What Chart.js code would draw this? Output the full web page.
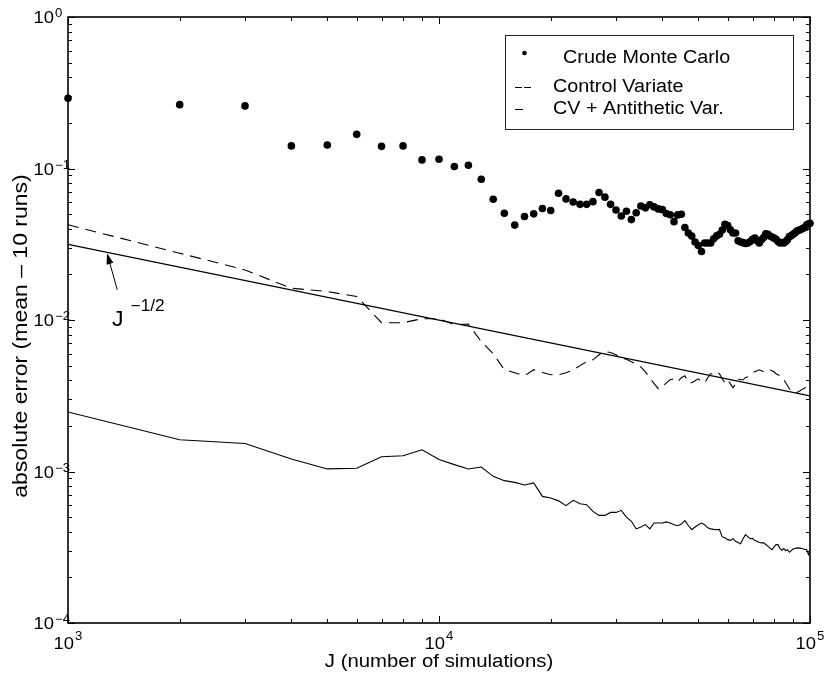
<!DOCTYPE html>
<html>
<head>
<meta charset="utf-8">
<script src="https://cdn.jsdelivr.net/npm/chart.js@4.4.1/dist/chart.umd.min.js"></script>
<style>
  html, body { margin: 0; padding: 0; background: #fff; }
  #wrap { width: 825px; height: 677px; }
</style>
</head>
<body>
<div id="wrap"><canvas id="errChart"></canvas></div>
<script>
// J in thousands of simulations
const jThousands = [
  1, 2, 3, 4, 5, 6, 7, 8, 9, 10,
  11, 12, 13, 14, 15, 16, 17, 18, 19, 20,
  21, 22, 23, 24, 25, 26, 27, 28, 29, 30,
  31, 32, 33, 34, 35, 36, 37, 38, 39, 40,
  41, 42, 43, 44, 45, 46, 47, 48, 49, 50,
  51, 52, 53, 54, 55, 56, 57, 58, 59, 60,
  61, 62, 63, 64, 65, 66, 67, 68, 69, 70,
  71, 72, 73, 74, 75, 76, 77, 78, 79, 80,
  81, 82, 83, 84, 85, 86, 87, 88, 89, 90,
  91, 92, 93, 94, 95, 96, 97, 98, 99, 100
];

const crudeMC = [
  0.291, 0.264, 0.259, 0.141, 0.143, 0.168, 0.140, 0.141, 0.114, 0.115,
  0.103, 0.105, 0.085, 0.0627, 0.0507, 0.0423, 0.0482, 0.0502, 0.0544, 0.0528,
  0.0687, 0.063, 0.0601, 0.058, 0.058, 0.0604, 0.0695, 0.0647, 0.058, 0.0532,
  0.0486, 0.0522, 0.046, 0.051, 0.0565, 0.055, 0.0577, 0.0558, 0.0541, 0.0535,
  0.0505, 0.0495, 0.0446, 0.0494, 0.0499, 0.0408, 0.0375, 0.0358, 0.0327, 0.031,
  0.0283, 0.0322, 0.0322, 0.0322, 0.0344, 0.0359, 0.0368, 0.0392, 0.0429, 0.042,
  0.0394, 0.0375, 0.0375, 0.0333, 0.0327, 0.0324, 0.032, 0.0322, 0.033, 0.0341,
  0.0347, 0.0333, 0.0322, 0.0338, 0.035, 0.0371, 0.0368, 0.0358, 0.0353, 0.0347,
  0.0341, 0.033, 0.0322, 0.0325, 0.0322, 0.033, 0.034, 0.0356, 0.036, 0.0368,
  0.0375, 0.0385, 0.039, 0.0394, 0.0399, 0.0405, 0.0408, 0.0425, 0.043, 0.0435
];

const controlVariate = [
  0.0425, 0.0276, 0.0214, 0.0162, 0.0154, 0.0143, 0.0096, 0.0096, 0.0102, 0.0102,
  0.0093, 0.0094, 0.0072, 0.0060, 0.0047, 0.00449, 0.00428, 0.0047, 0.0045, 0.00435,
  0.00435, 0.00448, 0.00469, 0.0050, 0.0053, 0.00546, 0.0059, 0.0062, 0.0061, 0.0059,
  0.00563, 0.0055, 0.0053, 0.00514, 0.0049, 0.00455, 0.00416, 0.0038, 0.00352, 0.00363,
  0.00385, 0.00403, 0.00409, 0.00391, 0.00416, 0.00428, 0.00385, 0.00385, 0.00397, 0.00409,
  0.00391, 0.00385, 0.00416, 0.00442, 0.00442, 0.00455, 0.00442, 0.00409, 0.00385, 0.00403,
  0.00379, 0.00357, 0.00379, 0.00409, 0.00403, 0.00403, 0.00416, 0.00422, 0.00435, 0.00448,
  0.00455, 0.00462, 0.00469, 0.00462, 0.00455, 0.00462, 0.00469, 0.00469, 0.00462, 0.00455,
  0.00442, 0.00435, 0.00428, 0.00422, 0.00403, 0.00385, 0.00368, 0.00352, 0.00341, 0.00336,
  0.00331, 0.00331, 0.00336, 0.00341, 0.00347, 0.00352, 0.00357, 0.00368, 0.00374, 0.00363
];

const cvAntithetic = [
  0.00247, 0.00162, 0.00153, 0.00121, 0.00104, 0.00105, 0.00125, 0.00127, 0.00139, 0.00120,
  0.00111, 0.00104, 0.00107, 0.000929, 0.000870, 0.000848, 0.000814, 0.000840, 0.000685, 0.000668,
  0.000640, 0.000595, 0.000645, 0.000613, 0.000604, 0.000545, 0.000513, 0.000513, 0.000537, 0.000537,
  0.000554, 0.000500, 0.000469, 0.000418, 0.000430, 0.000446, 0.000418, 0.000457, 0.000457, 0.000457,
  0.000465, 0.000457, 0.000445, 0.000439, 0.000450, 0.000474, 0.000440, 0.000413, 0.000430, 0.000445,
  0.000457, 0.000445, 0.000425, 0.000418, 0.000415, 0.000413, 0.000415, 0.000370, 0.000365, 0.000355,
  0.000351, 0.000360, 0.000346, 0.000340, 0.000334, 0.000360, 0.000383, 0.000370, 0.000360, 0.000362,
  0.000350, 0.000346, 0.000340, 0.000338, 0.000338, 0.000330, 0.000322, 0.000312, 0.000305, 0.000318,
  0.000329, 0.000329, 0.000310, 0.000302, 0.000310, 0.000300, 0.000305, 0.000293, 0.000300, 0.000308,
  0.000310, 0.000312, 0.000313, 0.000312, 0.000310, 0.000308, 0.000306, 0.000305, 0.000283, 0.000305
];

// J^-1/2 reference line end points
const refJ = [1000, 100000];
const refErr = [0.0316, 0.00316];

const seriesNames = ['Crude Monte Carlo', 'Control Variate', 'CV + Antithetic Var.'];

// axis ticks
const xTickVals = [1000, 2000, 3000, 4000, 5000, 6000, 7000, 8000, 9000,
  10000, 20000, 30000, 40000, 50000, 60000, 70000, 80000, 90000, 100000];
const xLabelVals = [1000, 10000, 100000];
const xLabelExp = ['3', '4', '5'];
const yTickVals = [0.0001, 0.0002, 0.0003, 0.0004, 0.0005, 0.0006, 0.0007, 0.0008, 0.0009,
  0.001, 0.002, 0.003, 0.004, 0.005, 0.006, 0.007, 0.008, 0.009,
  0.01, 0.02, 0.03, 0.04, 0.05, 0.06, 0.07, 0.08, 0.09,
  0.1, 0.2, 0.3, 0.4, 0.5, 0.6, 0.7, 0.8, 0.9, 1];
const yLabelVals = [1, 0.1, 0.01, 0.001, 0.0001];
const yLabelExp = ['0', '\u22121', '\u22122', '\u22123', '\u22124'];

// arrow + J^-1/2 label anchors (data coords)
const arrowTip = { j: 1274, err: 0.0276 };
const arrowTail = { j: 1358, err: 0.0158 };
const refLabelPos = { j: 1314, err: 0.0093 };

const FONT = '"Liberation Sans", Arial, Helvetica, sans-serif';

const toPts = vals => vals.map((v, i) => ({ x: jThousands[i] * 1000, y: v }));

// text drawn slightly wide, like the original figure
function wideText(ctx, str, x, y, size, align, sx) {
  ctx.save();
  ctx.font = size + 'px ' + FONT;
  const w = ctx.measureText(str).width * sx;
  let x0 = x;
  if (align === 'center') x0 = x - w / 2;
  if (align === 'right') x0 = x - w;
  ctx.translate(x0, y);
  ctx.scale(sx, 1);
  ctx.textAlign = 'left';
  ctx.textBaseline = 'alphabetic';
  ctx.fillStyle = '#000';
  ctx.fillText(str, 0, 0);
  ctx.restore();
  return w;
}

function textWidth(ctx, str, size, sx) {
  ctx.save();
  ctx.font = size + 'px ' + FONT;
  const w = ctx.measureText(str).width * sx;
  ctx.restore();
  return w;
}

const frame = {
  id: 'frame',
  afterDraw(chart) {
    const { ctx, chartArea: a } = chart;
    const xs = chart.scales.x, ys = chart.scales.y;
    ctx.save();

    // inward tick marks on all four sides
    ctx.strokeStyle = '#000';
    ctx.lineWidth = 1;
    ctx.beginPath();
    xTickVals.forEach(v => {
      const px = Math.round(xs.getPixelForValue(v)) + 0.5;
      const len = xLabelVals.includes(v) ? 7 : 4;
      ctx.moveTo(px, a.bottom); ctx.lineTo(px, a.bottom - len);
      ctx.moveTo(px, a.top); ctx.lineTo(px, a.top + len);
    });
    yTickVals.forEach(v => {
      const py = Math.round(ys.getPixelForValue(v)) + 0.5;
      const len = yLabelVals.includes(v) ? 7 : 4;
      ctx.moveTo(a.left, py); ctx.lineTo(a.left + len, py);
      ctx.moveTo(a.right, py); ctx.lineTo(a.right - len, py);
    });
    ctx.stroke();

    ctx.lineWidth = 1.6;
    ctx.strokeRect(a.left, a.top, a.right - a.left, a.bottom - a.top);

    // tick labels 10^n
    xLabelVals.forEach((v, i) => {
      const px = xs.getPixelForValue(v);
      const w10 = textWidth(ctx, '10', 16, 1.15);
      const we = textWidth(ctx, xLabelExp[i], 12, 1.1);
      const x0 = px - (w10 + we + 1) / 2;
      wideText(ctx, '10', x0, a.bottom + 26, 16, 'left', 1.15);
      wideText(ctx, xLabelExp[i], x0 + w10 + 1, a.bottom + 17, 12, 'left', 1.1);
    });
    yLabelVals.forEach((v, i) => {
      const py = ys.getPixelForValue(v);
      wideText(ctx, '10', a.left - 14, py + 6, 16, 'right', 1.15);
      wideText(ctx, yLabelExp[i], a.left - 13, py, 12, 'left', 1.1);
    });

    // axis titles
    wideText(ctx, 'J (number of simulations)', (a.left + a.right) / 2, 667, 18, 'center', 1.13);
    ctx.save();
    ctx.translate(27, (a.top + a.bottom) / 2 + 16);
    ctx.rotate(-Math.PI / 2);
    wideText(ctx, 'absolute error (mean \u2013 10 runs)', 0, 0, 20, 'center', 1.15);
    ctx.restore();

    // J^-1/2 annotation with arrow
    const tx = xs.getPixelForValue(arrowTip.j), ty = ys.getPixelForValue(arrowTip.err);
    const sx = xs.getPixelForValue(arrowTail.j), sy = ys.getPixelForValue(arrowTail.err);
    const ang = Math.atan2(ty - sy, tx - sx);
    ctx.strokeStyle = '#000';
    ctx.fillStyle = '#000';
    ctx.lineWidth = 1;
    ctx.beginPath();
    ctx.moveTo(sx, sy); ctx.lineTo(tx - 8 * Math.cos(ang), ty - 8 * Math.sin(ang));
    ctx.stroke();
    ctx.beginPath();
    ctx.moveTo(tx, ty);
    ctx.lineTo(tx - 11 * Math.cos(ang) + 3.5 * Math.sin(ang), ty - 11 * Math.sin(ang) - 3.5 * Math.cos(ang));
    ctx.lineTo(tx - 11 * Math.cos(ang) - 3.5 * Math.sin(ang), ty - 11 * Math.sin(ang) + 3.5 * Math.cos(ang));
    ctx.closePath();
    ctx.fill();
    const lx = xs.getPixelForValue(refLabelPos.j), ly = ys.getPixelForValue(refLabelPos.err);
    const wJ = wideText(ctx, 'J', lx, ly + 1, 22, 'left', 1.05);
    wideText(ctx, '\u22121/2', lx + wJ + 7, ly - 14, 16, 'left', 1.08);

    // legend box
    const lg = { left: 505, top: 35, right: 793, bottom: 129 };
    ctx.fillStyle = '#fff';
    ctx.fillRect(lg.left, lg.top, lg.right - lg.left, lg.bottom - lg.top);
    ctx.strokeStyle = '#222';
    ctx.lineWidth = 1;
    ctx.strokeRect(lg.left + 0.5, lg.top + 0.5, lg.right - lg.left, lg.bottom - lg.top);
    const names = chart.data.datasets.slice(0, 3).map(d => d.label);
    ctx.fillStyle = '#000';
    ctx.beginPath();
    ctx.arc(524.5, 53, 2.3, 0, Math.PI * 2);
    ctx.fill();
    ctx.strokeStyle = '#000';
    ctx.lineWidth = 1;
    ctx.beginPath();
    ctx.moveTo(515, 87.5); ctx.lineTo(522, 87.5);
    ctx.moveTo(524, 87.5); ctx.lineTo(531, 87.5);
    ctx.moveTo(515, 109.5); ctx.lineTo(523, 109.5);
    ctx.stroke();
    wideText(ctx, names[0], 563, 63, 18, 'left', 1.1);
    wideText(ctx, names[1], 553, 92, 18, 'left', 1.1);
    wideText(ctx, names[2], 553, 114, 18, 'left', 1.1);

    ctx.restore();
  }
};

new Chart(document.getElementById('errChart'), {
  type: 'scatter',
  data: {
    datasets: [
      {
        label: seriesNames[0],
        data: toPts(crudeMC),
        showLine: false,
        pointRadius: 3.8,
        pointBackgroundColor: '#000',
        pointBorderWidth: 0,
        clip: false
      },
      {
        label: seriesNames[1],
        data: toPts(controlVariate),
        showLine: true,
        borderColor: '#000',
        borderWidth: 1.1,
        borderDash: [11, 7],
        pointRadius: 0,
        tension: 0
      },
      {
        label: seriesNames[2],
        data: toPts(cvAntithetic),
        showLine: true,
        borderColor: '#000',
        borderWidth: 1.1,
        pointRadius: 0,
        tension: 0
      },
      {
        label: 'J^-1/2',
        data: refJ.map((j, i) => ({ x: j, y: refErr[i] })),
        showLine: true,
        borderColor: '#000',
        borderWidth: 1.3,
        pointRadius: 0
      }
    ]
  },
  options: {
    responsive: true,
    maintainAspectRatio: false,
    animation: false,
    events: [],
    layout: { padding: { left: 68, right: 15, top: 17, bottom: 54 } },
    scales: {
      x: { type: 'logarithmic', min: 1000, max: 100000, display: false },
      y: { type: 'logarithmic', min: 0.0001, max: 1, display: false }
    },
    plugins: {
      legend: { display: false },
      tooltip: { enabled: false }
    }
  },
  plugins: [frame]
});
</script>
</body>
</html>
